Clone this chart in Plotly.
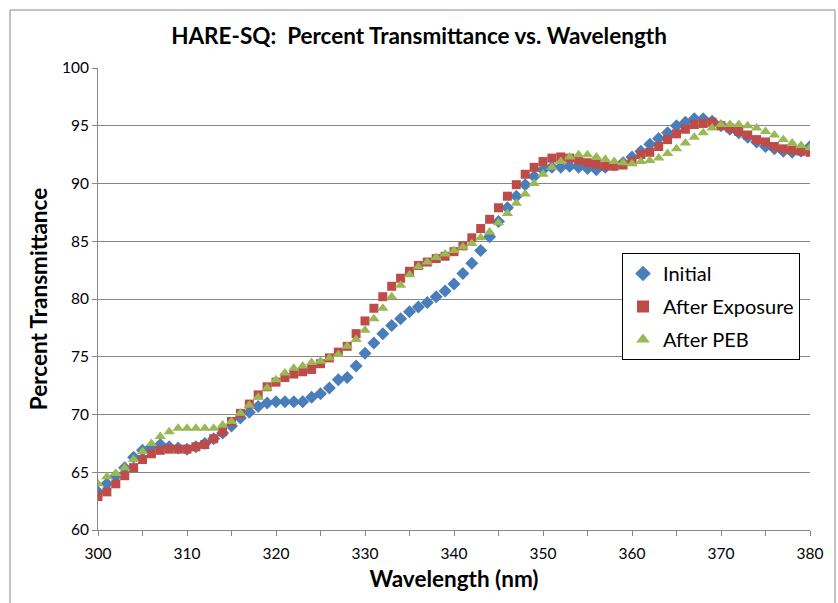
import plotly.graph_objects as go

wavelength = list(range(300, 381))

initial = [63.3, 64.0, 64.7, 65.4, 66.3, 66.9, 67.2, 67.4, 67.2, 67.1,
           67.0, 67.2, 67.5, 67.9, 68.4, 69.0, 69.7, 70.2, 70.7, 71.0,
           71.1, 71.1, 71.1, 71.1, 71.5, 71.8, 72.3, 73.0, 73.2, 74.2,
           75.3, 76.2, 77.0, 77.7, 78.3, 78.9, 79.3, 79.7, 80.2, 80.7,
           81.3, 82.2, 83.1, 84.2, 85.4, 86.7, 87.9, 88.9, 89.9, 90.6,
           91.2, 91.4, 91.4, 91.5, 91.4, 91.3, 91.2, 91.4, 91.6, 91.8,
           92.3, 92.8, 93.4, 93.9, 94.4, 95.0, 95.3, 95.6, 95.6, 95.4,
           95.0, 94.7, 94.4, 94.0, 93.6, 93.2, 93.0, 92.8, 92.7, 92.8,
           93.2]

after_exposure = [62.9, 63.3, 64.0, 64.7, 65.4, 66.1, 66.6, 66.9, 67.0, 67.0,
                  67.0, 67.2, 67.4, 67.9, 68.5, 69.4, 70.1, 70.9, 71.7, 72.4,
                  72.8, 73.2, 73.5, 73.7, 73.9, 74.4, 74.9, 75.4, 75.9, 77.0,
                  78.1, 79.2, 80.2, 81.1, 81.8, 82.4, 82.9, 83.2, 83.5, 83.7,
                  84.1, 84.6, 85.3, 86.1, 86.9, 87.9, 88.9, 89.9, 90.8, 91.4,
                  91.9, 92.2, 92.3, 92.2, 92.0, 91.8, 91.7, 91.5, 91.5, 91.6,
                  91.9, 92.5, 92.7, 93.2, 93.8, 94.3, 94.7, 95.1, 95.2, 95.3,
                  95.0, 94.8, 94.5, 94.2, 93.8, 93.6, 93.2, 93.0, 92.9, 92.8,
                  92.7]

after_peb = [64.0, 64.6, 64.9, 65.4, 66.1, 66.8, 67.5, 68.1, 68.5, 68.8,
             68.8, 68.8, 68.8, 68.8, 69.1, 69.4, 70.1, 70.8, 71.5, 72.3,
             73.0, 73.6, 74.0, 74.2, 74.5, 74.6, 74.9, 75.2, 75.9, 76.5,
             77.3, 78.3, 79.2, 80.2, 81.2, 82.1, 82.8, 83.2, 83.6, 83.9,
             84.2, 84.5, 84.8, 85.3, 85.8, 86.6, 87.4, 88.3, 89.1, 90.0,
             90.8, 91.4, 91.9, 92.3, 92.5, 92.5, 92.3, 92.1, 91.9, 91.8,
             91.7, 91.9, 92.0, 92.2, 92.6, 93.0, 93.5, 94.0, 94.4, 94.8,
             95.1, 95.1, 95.1, 95.0, 94.8, 94.5, 94.2, 93.8, 93.5, 93.3,
             93.1]

series_names = ["Initial", "After Exposure", "After PEB"]
x_tick_vals = [300, 310, 320, 330, 340, 350, 360, 370, 380]
y_tick_vals = [60, 65, 70, 75, 80, 85, 90, 95, 100]

FONT = "Lato"
fig = go.Figure()
fig.add_trace(go.Scatter(x=wavelength, y=initial, mode="markers", name=series_names[0],
                         legendgroup="a",
                         marker=dict(symbol="diamond", size=10, color="#4A7EBB")))
fig.add_trace(go.Scatter(x=wavelength, y=after_exposure, mode="markers", name=series_names[1],
                         legendgroup="b",
                         marker=dict(symbol="square", size=9, color="#BE4B48")))
fig.add_trace(go.Scatter(x=wavelength, y=after_peb, mode="markers", name=series_names[2],
                         legendgroup="c",
                         marker=dict(symbol="triangle-up", size=10, color="#98B954")))

fig.update_layout(
    width=838, height=603,
    margin=dict(l=98, r=28, t=68, b=73),
    paper_bgcolor="white", plot_bgcolor="white",
    font=dict(family=FONT, color="#000000"),
    title=dict(text="<b>HARE-SQ:  Percent Transmittance vs. Wavelength</b>",
               x=0.5, xref="container", xanchor="center", y=0.94, yanchor="middle",
               font=dict(size=22.5, family=FONT, color="#000000")),
    showlegend=True,
    legend=dict(x=(622 - 98) / 712, y=(530 - 253) / 462, xanchor="left", yanchor="top",
                bgcolor="white", bordercolor="#000000", borderwidth=1,
                font=dict(size=20, family=FONT, color="#000000"),
                itemsizing="constant", traceorder="grouped", tracegroupgap=4),
    xaxis=dict(range=[300, 380], tickvals=x_tick_vals, ticks="outside", ticklen=5,
               tickcolor="#868686", showline=True, linecolor="#868686", linewidth=1,
               showgrid=False, zeroline=False, ticklabelstandoff=4,
               tickfont=dict(size=15.5, family=FONT, color="#000000"),
               minor=dict(dtick=5, ticks="outside", ticklen=5, tickcolor="#868686", showgrid=False),
               title=dict(text="<b>Wavelength (nm)</b>", font=dict(size=22.5, family=FONT), standoff=10)),
    yaxis=dict(range=[60, 100], tickvals=y_tick_vals, ticks="outside", ticklen=5,
               tickcolor="#868686", showline=True, linecolor="#868686", linewidth=1,
               showgrid=True, gridcolor="#868686", gridwidth=1, zeroline=False,
               tickfont=dict(size=15.5, family=FONT, color="#000000"),
               title=dict(text="<b>Percent Transmittance</b>", font=dict(size=22.5, family=FONT), standoff=8)),
)

fig.add_shape(type="rect", xref="paper", yref="paper",
              x0=(10 - 98) / 712, x1=(835 - 98) / 712,
              y0=(530 - 620) / 462, y1=(530 - 10) / 462,
              line=dict(color="#898989", width=1), fillcolor="rgba(0,0,0,0)", layer="below")

fig.write_html("out.html", config={"displayModeBar": False},
               post_script="document.body.style.margin='0px';")
